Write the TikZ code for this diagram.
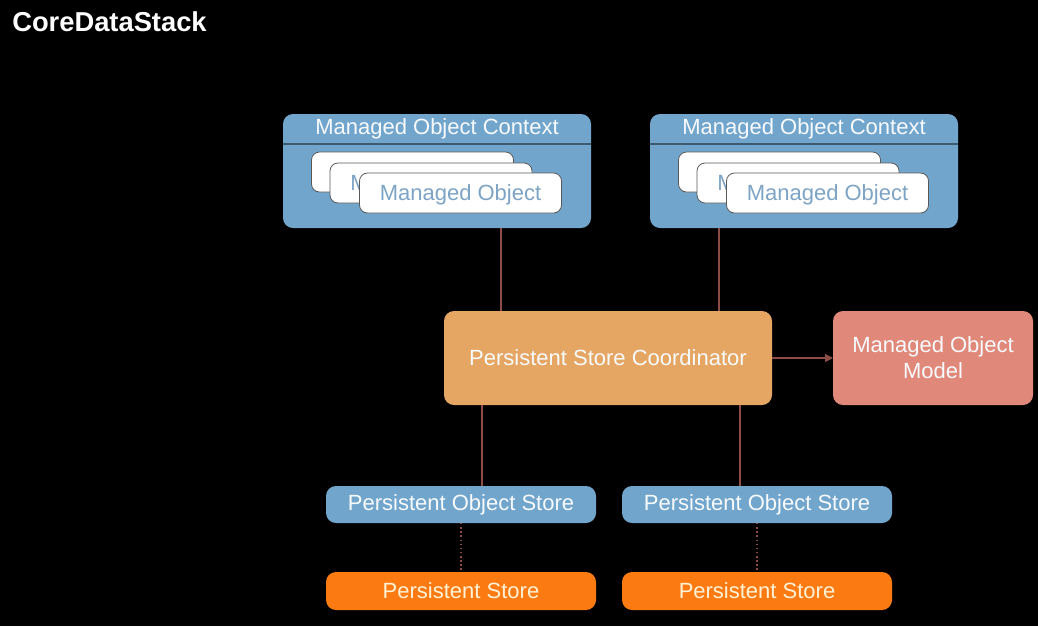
\documentclass[tikz,border=0pt]{standalone}
\usepackage{fontspec}
\setmainfont{Liberation Sans}
\usepackage{tikz}
\usetikzlibrary{arrows.meta}
\definecolor{cd_back}{HTML}{000000}
\definecolor{cd_blue}{HTML}{72A5CC}
\definecolor{cd_bluetext}{HTML}{7DA4C4}
\definecolor{cd_rule}{HTML}{3E5A70}
\definecolor{cd_tan}{HTML}{E5A663}
\definecolor{cd_salmon}{HTML}{E0887A}
\definecolor{cd_orange}{HTML}{FB7B12}
\definecolor{cd_pale}{HTML}{FFF2D6}
\definecolor{cd_link}{HTML}{8E4C46}
\tikzset{
    box/.style={rounded corners=7.5pt, inner sep=0pt, outer sep=0pt, align=center,
        font=\fontsize{16.5}{19.5}\selectfont, text=white!94!cd_blue},
    context/.style={box, fill=cd_blue, minimum width=231pt, minimum height=85.5pt},
    object/.style={box, fill=white, draw=black!65, line width=0.6pt, rounded corners=6pt,
        minimum width=151.5pt, minimum height=30pt, text=cd_bluetext, text depth=0pt},
    objectstore/.style={box, fill=cd_blue, minimum width=202.5pt, minimum height=27.75pt},
    store/.style={box, fill=cd_orange, minimum width=202.5pt, minimum height=28.5pt, text=cd_pale},
    link/.style={draw=cd_link, line width=1.1pt},
}

\begin{document}
\begin{tikzpicture}[x=0.75pt, y=-0.75pt]
    \fill[cd_back] (0,0) rectangle (1038,626);
    \node[anchor=base west, inner sep=0pt, text=white,
          font=\fontsize{20.5}{24}\selectfont\bfseries] (title) at (12,31) {CoreDataStack};

    % contexts with their objects
    \node[context] (mocL) at (437,171) {};
    \node[box, anchor=center] (mocLtitle) at (437,129) {Managed Object Context};
    \draw[cd_rule, line width=0.8pt] ([yshift=-22.5pt]mocL.north west) -- ([yshift=-22.5pt]mocL.north east);
    \node[object] (moL1) at (412.5,172) {Managed Object};
    \node[object] (moL2) at (431,183) {Managed Object};
    \node[object] (moL3) at (460.5,193) {Managed Object};

    \node[context] (mocR) at (804,171) {};
    \node[box, anchor=center] (mocRtitle) at (804,129) {Managed Object Context};
    \draw[cd_rule, line width=0.8pt] ([yshift=-22.5pt]mocR.north west) -- ([yshift=-22.5pt]mocR.north east);
    \node[object] (moR1) at (779.5,172) {Managed Object};
    \node[object] (moR2) at (798,183) {Managed Object};
    \node[object] (moR3) at (827.5,193) {Managed Object};

    % coordinator and model
    \node[box, fill=cd_tan, minimum width=246pt, minimum height=70.5pt] (psc) at (608,358)
        {Persistent Store Coordinator};
    \node[box, fill=cd_salmon, minimum width=150pt, minimum height=70.5pt] (mom) at (933,358)
        {Managed Object\\Model};

    % stores
    \node[objectstore] (posL) at (461,504.5) {Persistent Object Store};
    \node[objectstore] (posR) at (757,504.5) {Persistent Object Store};
    \node[store] (psL) at (461,591) {Persistent Store};
    \node[store] (psR) at (757,591) {Persistent Store};

    \draw[link] ([xshift=48pt]mocL.south) -- ([xshift=48pt]mocL.south |- psc.north);
    \draw[link] ([xshift=-63.75pt]mocR.south) -- ([xshift=-63.75pt]mocR.south |- psc.north);
    \draw[link, -{Triangle[length=6pt, width=6pt]}] (psc.east) -- (mom.west);
    \draw[link] ([xshift=15.75pt]posL.north) -- ([xshift=15.75pt]posL.north |- psc.south);
    \draw[link] ([xshift=-12.75pt]posR.north) -- ([xshift=-12.75pt]posR.north |- psc.south);
    \draw[link, dotted] (posL.south) -- (psL.north);
    \draw[link, dotted] (posR.south) -- (psR.north);
\end{tikzpicture}
\end{document}
